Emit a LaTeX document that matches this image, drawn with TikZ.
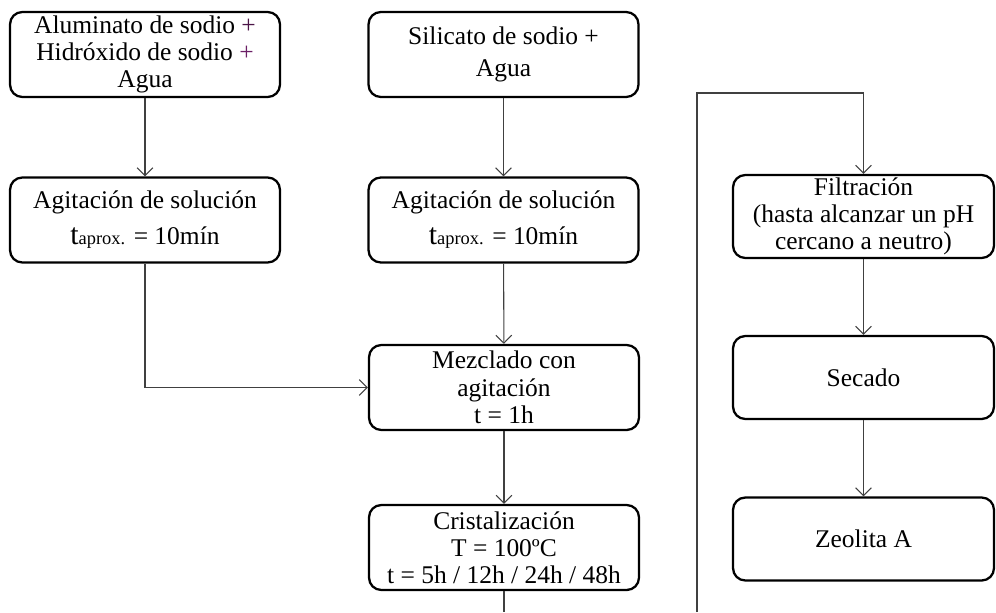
\documentclass[tikz,border=0pt]{standalone}
\usepackage{fontspec}
\setmainfont{Liberation Serif}
\usetikzlibrary{arrows.meta}

\tikzset{
  paso/.style={draw, line width=1.3pt, rounded corners=7pt, align=center,
    minimum width=5.4cm, minimum height=1.7cm, inner sep=1pt,
    font=\fontsize{14.5}{15.5}\selectfont},
  pasoder/.style={paso, minimum width=5.22cm, minimum height=1.66cm},
  flecha/.style={draw=black!75, line width=0.6pt, -{Straight Barb[length=4.5pt,width=9pt]}},
  linea/.style={draw=black!75, line width=0.6pt}
}
\definecolor{morado}{rgb}{0.42,0.12,0.40}
\newcommand{\taprox}{{\fontsize{17}{18}\selectfont t}{\fontsize{10.5}{12}\selectfont aprox.} = 10mín}

\begin{document}
\begin{tikzpicture}[x=0.02cm, y=-0.02cm]
\useasboundingbox (0,0) rectangle (996,612);

% columna izquierda
\node[paso] (alum) at (145,54.5) {Aluminato de sodio {\color{morado!70!black}+}\\Hidróxido de sodio {\color{morado}+}\\Agua};
\node[paso] (agit1) at (145,220) {Agitación de solución\\[5pt]\taprox};

% columna central
\node[paso] (sili) at (503.5,54.5) {Silicato de sodio +\\[3pt]Agua};
\node[paso] (agit2) at (503.5,220) {Agitación de solución\\[5pt]\taprox};
\node[paso] (mezcla) at (504,387.5) {Mezclado con\\agitación\\t = 1h};
\node[paso] (crist) at (504,547.5) {Cristalización\\T = 100ºC\\t = 5h / 12h / 24h / 48h};

% columna derecha
\node[pasoder] (filtro) at (863.5,216.5) {Filtración\\(hasta alcanzar un pH\\cercano a neutro)};
\node[pasoder] (secado) at (863.5,377.5) {Secado};
\node[pasoder] (zeo) at (863.5,539) {Zeolita A};

\coordinate (abajo1) at (504,612);
\coordinate (abajo2) at (697,612);
\coordinate (arriba) at (697,93);

\draw[flecha] (alum) -- (agit1);
\draw[flecha] (sili) -- (agit2);
\draw[flecha] (agit1.south) |- (mezcla.west);
\draw[flecha] (agit2) -- (mezcla);
\draw[flecha] (mezcla) -- (crist);
\draw[linea] (crist.south) -- (crist.south |- abajo1);

\draw[flecha] (abajo2) -- (arriba) -| (filtro.north);
\draw[flecha] (filtro) -- (secado);
\draw[flecha] (secado) -- (zeo);

\end{tikzpicture}
\end{document}
